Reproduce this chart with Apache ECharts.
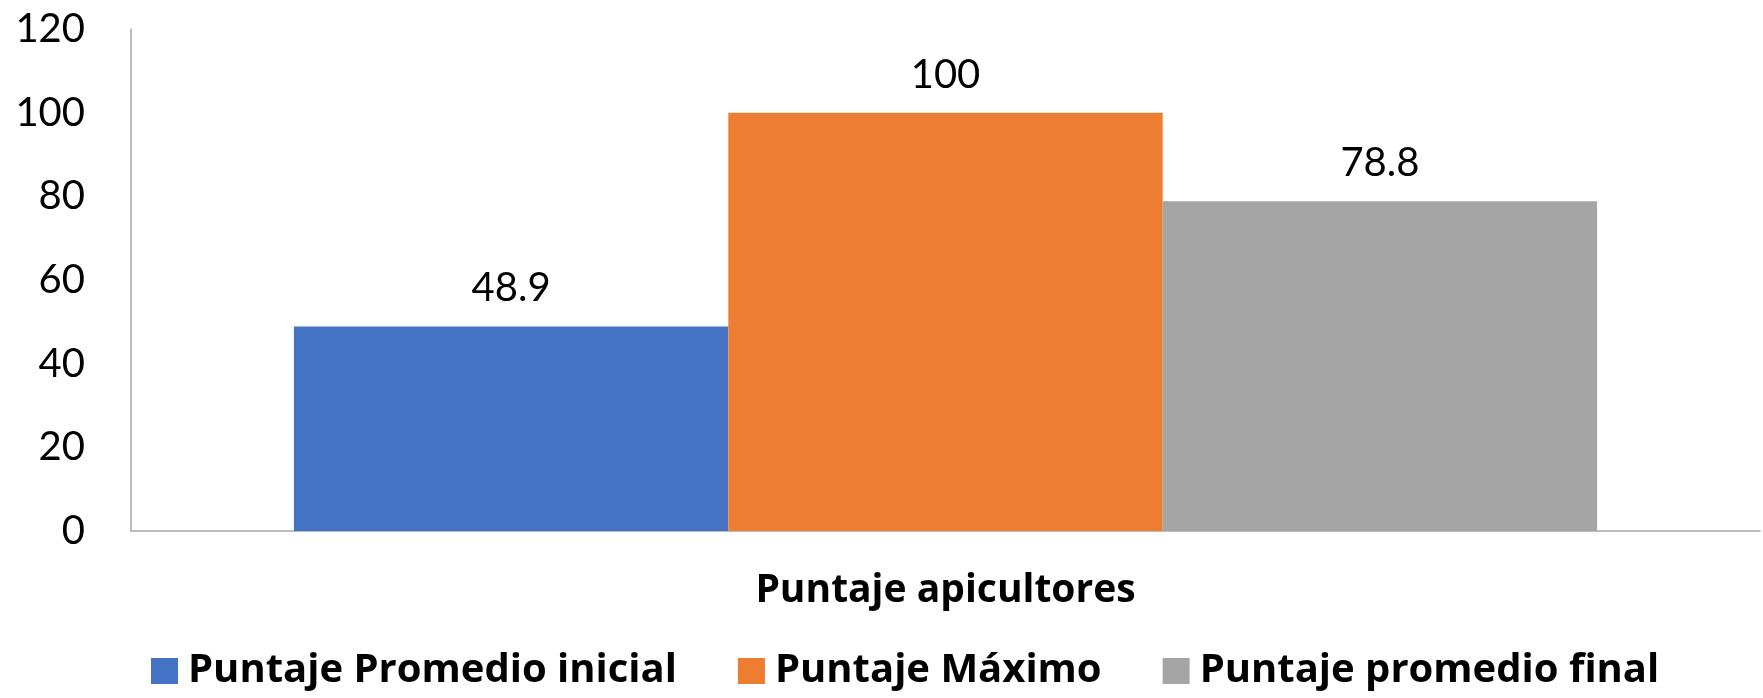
<!DOCTYPE html>
<html>
<head>
<meta charset="utf-8">
<script src="https://cdn.jsdelivr.net/npm/echarts@6/dist/echarts.min.js"></script>
<style>
  html, body { margin: 0; padding: 0; background: #fff; }
  #chart { width: 1763px; height: 698px; }
</style>
</head>
<body>
<div id="chart"></div>
<script>
// datos del gráfico
const categories = ["Puntaje apicultores"]
const seriesNames = ["Puntaje Promedio inicial", "Puntaje Máximo", "Puntaje promedio final"]
const promedioInicial = [48.9]
const puntajeMaximo = [100]
const promedioFinal = [78.8]
const colors = ["#4472C4", "#ED7D31", "#A5A5A5"]

const chart = echarts.init(document.getElementById("chart"))

const font = "Lato, Carlito, Calibri, sans-serif"
const boldFont = "'Open Sans', Lato, sans-serif"
const makeSeries = (name, data, color) => ({
  type: "bar",
  name: name,
  data: data,
  barGap: "0%",
  barCategoryGap: "20%",
  itemStyle: { color: color },
  label: {
    show: true,
    position: "top",
    distance: 18,
    color: "#000",
    fontSize: 40,
    fontFamily: font,
  },
})

const option = {
  animation: false,
  color: colors,
  grid: {
    left: 131,
    right: 3,
    top: 29,
    bottom: 167,
  },
  legend: {
    bottom: 2,
    left: 146,
    itemWidth: 27,
    itemHeight: 26,
    itemGap: 61,
    icon: "rect",
    textStyle: {
      color: "#000",
      fontSize: 40,
      fontWeight: "bold",
      fontFamily: boldFont,
      padding: [0, 0, 0, 5],
    },
    data: seriesNames,
  },
  xAxis: {
    type: "category",
    data: categories,
    name: categories[0],
    nameLocation: "middle",
    nameGap: 40,
    nameTextStyle: {
      color: "#000",
      fontSize: 39,
      fontWeight: "bold",
      fontFamily: boldFont,
    },
    axisLabel: { show: false },
    axisTick: { show: false },
    axisLine: { lineStyle: { color: "#A6A6A6", width: 1.5 } },
  },
  yAxis: {
    type: "value",
    min: 0,
    max: 120,
    interval: 20,
    axisLine: { show: true, lineStyle: { color: "#A6A6A6", width: 1.5 } },
    axisTick: { show: false },
    splitLine: { show: false },
    axisLabel: {
      color: "#000",
      fontSize: 40,
      fontFamily: font,
      margin: 46,
    },
  },
  series: [
    makeSeries(seriesNames[0], promedioInicial, colors[0]),
    makeSeries(seriesNames[1], puntajeMaximo, colors[1]),
    makeSeries(seriesNames[2], promedioFinal, colors[2]),
  ],
}
chart.setOption(option)
</script>
</body>
</html>
